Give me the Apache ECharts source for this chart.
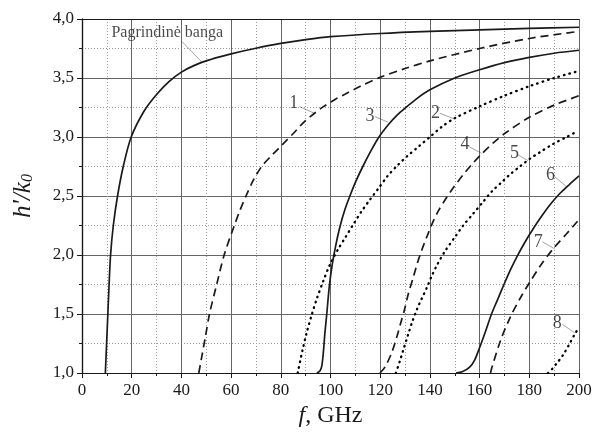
<!DOCTYPE html>
<html><head><meta charset="utf-8">
<script src="https://cdn.jsdelivr.net/npm/echarts@6/dist/echarts.min.js"></script>
<style>html,body{margin:0;padding:0;background:#fff}#c{width:598px;height:433px}</style>
</head><body><div id="c"></div>
<script>
// x: frequency f, GHz ; y: h'/k0
const fundamental = [[9.4,1.0],[9.9,1.25],[10.4,1.5],[10.9,1.75],[11.5,2.0],[12.6,2.25],[14.3,2.5],[16.6,2.75],[19.8,3.0],[25,3.22],[30,3.36],[35,3.47],[40,3.55],[45,3.605],[50,3.645],[55,3.677],[60,3.705],[70,3.752],[80,3.793],[90,3.825],[100,3.85],[120,3.877],[140,3.895],[160,3.908],[180,3.92],[200,3.93]];
const mode1 = [[47.0,1.0],[48.3,1.15],[49.6,1.3],[51.3,1.5],[54.2,1.75],[57.2,2.0],[61.3,2.25],[63.6,2.38],[66,2.5],[69,2.636],[72.3,2.75],[75.7,2.83],[79,2.9],[82,2.965],[85.5,3.04],[88.5,3.11],[92,3.175],[97,3.255],[102,3.32],[106,3.365],[112,3.43],[120,3.505],[130,3.58],[140,3.645],[160,3.75],[180,3.835],[200,3.895]];
const mode2 = [[86.8,1.0],[88.7,1.19],[90.4,1.34],[92.4,1.49],[94.5,1.63],[97.1,1.78],[99.8,1.92],[103.1,2.05],[106,2.15],[109.2,2.26],[112.5,2.37],[115.9,2.47],[119.5,2.57],[123,2.67],[127,2.76],[131,2.84],[135.5,2.92],[140,3.0],[145,3.09],[150,3.16],[160,3.26],[170,3.35],[180,3.43],[190,3.5],[200,3.56]];
const mode3 = [[94.5,1.0],[95.8,1.02],[96.5,1.06],[97.1,1.17],[97.8,1.35],[98.5,1.5],[99.5,1.73],[100.7,1.92],[102.1,2.08],[103.8,2.24],[105.8,2.385],[107.8,2.5],[110.1,2.62],[113,2.75],[116.2,2.88],[119.5,3.0],[123.5,3.11],[127,3.19],[130,3.245],[135,3.33],[140,3.4],[150,3.5],[160,3.57],[170,3.63],[180,3.675],[190,3.71],[200,3.735]];
const mode4 = [[119.9,1.0],[121.9,1.05],[124.6,1.17],[126.6,1.3],[128.2,1.42],[129.7,1.53],[131.3,1.67],[133.3,1.81],[134.8,1.92],[136.7,2.04],[138.7,2.15],[140.8,2.26],[143.3,2.37],[146.2,2.47],[149.4,2.57],[153.4,2.68],[157,2.77],[161,2.86],[165.5,2.95],[170.8,3.04],[180.2,3.17],[190,3.27],[200,3.35]];
const mode5 = [[126.3,1.0],[127.9,1.1],[129.2,1.19],[131.3,1.33],[133,1.44],[134.8,1.54],[136.7,1.63],[138.7,1.72],[140.7,1.82],[143,1.92],[146,2.03],[150,2.15],[153.4,2.25],[157,2.34],[161.4,2.45],[165,2.54],[168.8,2.615],[172.1,2.68],[176.2,2.75],[180.2,2.815],[184.2,2.87],[189.5,2.94],[195,3.0],[199.6,3.05]];
const mode6 = [[150.5,1.0],[153,1.01],[156,1.05],[158,1.11],[160.1,1.22],[162.5,1.36],[164.8,1.5],[167.2,1.62],[169.8,1.75],[172.3,1.87],[175,1.985],[178,2.1],[181.5,2.22],[185,2.33],[188.5,2.43],[192,2.515],[196,2.595],[200,2.67]];
const mode7 = [[164.4,1.0],[165,1.05],[168.5,1.28],[172.5,1.48],[176.5,1.64],[180.2,1.77],[184.8,1.92],[189.5,2.05],[195,2.18],[200,2.3]];
const mode8 = [[187.5,1.0],[189,1.03],[191,1.08],[193.5,1.15],[196,1.24],[198.3,1.33],[199.5,1.37]];

const curveNames = ['Pagrindinė banga','1','2','3','4','5','6','7','8'];
const curveData = [fundamental, mode1, mode2, mode3, mode4, mode5, mode6, mode7, mode8];
const curveStyles = ['solid','dashed','dotted','solid','dashed','dotted','solid','dashed','dotted'];

// annotation text positions and leader lines, in data units
const labelPos = [[34.3,3.884],[85.2,3.287],[142.3,3.205],[115.9,3.175],[154.1,2.937],[174,2.865],[188.5,2.678],[183.6,2.108],[191.2,1.419]];
const leaderFrom = [[40.2,3.81],[87.5,3.258],[144,3.202],[117.9,3.173],[155.8,2.918],[175.5,2.848],[190.2,2.664],[185.3,2.112],[193.3,1.413]];
const leaderTo = [[48.2,3.635],[93.4,3.202],[150,3.151],[123.2,3.125],[160.8,2.862],[179.5,2.8],[194.9,2.58],[190.2,2.052],[198.3,1.34]];

const xMin = 0, xMax = 200, xStep = 20;
const yMin = 1.0, yMax = 4.0, yStep = 0.5;

const FONT = 'Liberation Serif';
const INK = '#1a1a1a';

function lineStyleFor(kind){
  if (kind === 'dashed') return {color: INK, width: 1.7, type: [8,5]};
  if (kind === 'dotted') return {color: '#000', width: 2.3, type: [0.6,5], cap: 'round'};
  return {color: INK, width: 1.7, type: 'solid'};
}

const series = curveData.map((d,i)=>({
  type:'line', name: curveNames[i], data: d, showSymbol:false, symbol:'none',
  smooth: 0.3, lineStyle: lineStyleFor(curveStyles[i]),
  silent:true, z: 3
}));

series.push({
  type:'lines', coordinateSystem:'cartesian2d', silent:true, z:4,
  lineStyle:{color: INK, width: 0.8},
  data: leaderFrom.map((p,i)=>({coords:[p, leaderTo[i]]}))
});

series.push({
  type:'scatter', symbolSize:0, silent:true, z:5,
  data: labelPos.map((p,i)=>({value:p, name: curveNames[i],
    label:{fontSize: i===0?16:18}})),
  label:{show:true, position:'inside', formatter: p=>p.name, color: INK,
    fontFamily: FONT, fontSize: 18}
});

const gridLine = {show:true, lineStyle:{color:'#666', width:1}};
const minorGrid = {show:true, lineStyle:{color:'#999', width:1, type:[1,2]}};

const option = {
  animation:false,
  backgroundColor:'#fff',
  grid:{left:82, right:19, top:19, bottom:60, containLabel:false},
  xAxis:[{
    type:'value', min:xMin, max:xMax, interval:xStep,
    axisLine:{show:true, onZero:false, lineStyle:{color:INK, width:1.2}},
    axisTick:{show:true, length:5, lineStyle:{color:INK}},
    minorTick:{show:true, splitNumber:2, length:3, lineStyle:{color:INK}},
    splitLine: gridLine, minorSplitLine: minorGrid,
    axisLabel:{color:INK, fontFamily:FONT, fontSize:17, margin:9},
    name:'{i|f}{n|, GHz}', nameLocation:'middle', nameGap:31,
    nameTextStyle:{rich:{i:{fontFamily:FONT, fontStyle:'italic', fontSize:24, color:INK},
                         n:{fontFamily:FONT, fontSize:24, color:INK}}}
  },{
    type:'value', position:'top', min:xMin, max:xMax, interval:xStep,
    axisLine:{show:true, lineStyle:{color:INK, width:1.2}},
    axisTick:{show:false}, axisLabel:{show:false}, splitLine:{show:false}
  }],
  yAxis:[{
    type:'value', min:yMin, max:yMax, interval:yStep,
    axisLine:{show:true, onZero:false, lineStyle:{color:INK, width:1.2}},
    axisTick:{show:true, length:5, lineStyle:{color:INK}},
    minorTick:{show:true, splitNumber:2, length:3, lineStyle:{color:INK}},
    splitLine: gridLine, minorSplitLine: minorGrid,
    axisLabel:{color:INK, fontFamily:FONT, fontSize:17, margin:8,
      formatter: v=>v.toFixed(1).replace('.',',')},
    name:"{i|h'/k}{s|0}", nameLocation:'middle', nameGap:46, nameRotate:90,
    nameTextStyle:{rich:{i:{fontFamily:FONT, fontStyle:'italic', fontSize:25, color:INK, lineHeight:26},
                         s:{fontFamily:FONT, fontStyle:'italic', fontSize:16, color:INK, verticalAlign:'bottom', lineHeight:20}}}
  },{
    type:'value', position:'right', min:yMin, max:yMax, interval:yStep,
    axisLine:{show:true, lineStyle:{color:INK, width:1.2}},
    axisTick:{show:false}, axisLabel:{show:false}, splitLine:{show:false}
  }],
  series: series
};
const chart = echarts.init(document.getElementById('c'));
chart.setOption(option);
</script></body></html>
